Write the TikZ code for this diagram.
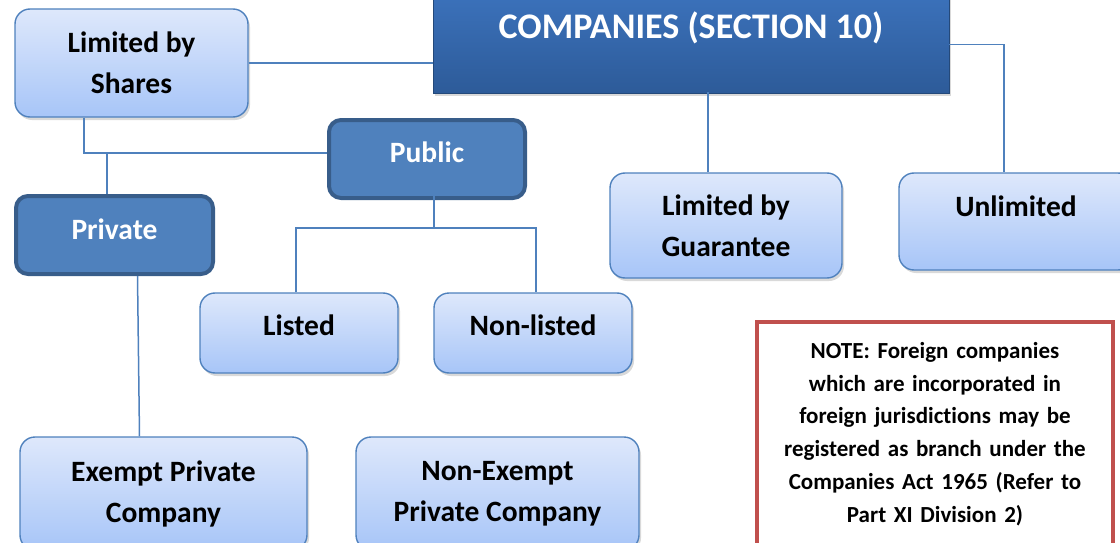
\documentclass[tikz,border=0pt]{standalone}
\usepackage{fontspec}
\setmainfont{Carlito}[Ligatures=CommonOff]
\usepackage{tikz}
\usetikzlibrary{shadows}
\usetikzlibrary{positioning}

\definecolor{linkblue}{HTML}{4F81BD}
\definecolor{darkrim}{HTML}{385D8A}
\definecolor{paletop}{HTML}{DEE8FB}
\definecolor{palebot}{HTML}{A7C5F8}
\definecolor{headtop}{HTML}{3B71BA}
\definecolor{headbot}{HTML}{2D5B99}
\definecolor{noterim}{HTML}{C0504D}

\begin{document}
\begin{tikzpicture}[x=1pt, y=-1pt,
    link/.style={draw=linkblue, line width=1.5pt},
    boxfont/.style={font=\fontsize{29.5}{41}\selectfont\bfseries},
    palebox/.style={boxfont, draw=linkblue, line width=1.4pt, rounded corners=15pt,
        top color=paletop, bottom color=palebot, align=center, inner sep=0pt,
        drop shadow={shadow xshift=2pt, shadow yshift=-3pt, opacity=0.3}},
    solidbox/.style={boxfont, draw=darkrim, line width=4pt, rounded corners=12pt,
        fill=linkblue, text=white, inner sep=0pt},
    headbox/.style={draw=headbot!80!black, line width=0.8pt, top color=headtop, bottom color=headbot,
        text=white, font=\fontsize{36}{42}\selectfont\bfseries, inner sep=0pt,
        drop shadow={shadow xshift=2pt, shadow yshift=-3pt, opacity=0.3}},
    notebox/.style={draw=noterim, line width=4pt, fill=white, align=center,
        font=\fontsize{23}{32.8}\selectfont\bfseries, inner xsep=0pt, inner ysep=20pt,
        drop shadow={shadow xshift=2pt, shadow yshift=-3pt, opacity=0.3}}]
\path[clip] (0,0) rectangle (1120,543);

\node[headbox, minimum width=516pt, minimum height=97pt, text depth=38pt] (companies) at (691,44.5) {COMPANIES (SECTION 10)};
\node[palebox, minimum width=233pt, minimum height=108pt] (shares) at (131.5,63) {Limited by\\Shares};
\node[palebox, minimum width=232pt, minimum height=105pt] (guarantee) at (726,225.5) {Limited by\\Guarantee};
\node[palebox, minimum width=234pt, minimum height=97pt, text depth=31pt] (unlimited) at (1016,221.5) {Unlimited};
\node[solidbox, minimum width=196pt, minimum height=78pt, text depth=14pt] (public) at (427,159) {Public};
\node[solidbox, minimum width=197pt, minimum height=78pt, text depth=12pt] (private) at (114.5,235) {Private};
\node[palebox, minimum width=198pt, minimum height=80pt, text depth=16pt] (listed) at (299,333) {Listed};
\node[palebox, minimum width=198pt, minimum height=80pt, text depth=16pt] (nonlisted) at (533,333) {Non-listed};
\node[palebox, minimum width=287pt, minimum height=113pt] (exempt) at (163.5,493.5) {Exempt Private\\Company};
\node[palebox, minimum width=283pt, minimum height=113pt] (nonexempt) at (497.5,493.5) {Non-Exempt\\Private Company};
\node[notebox, minimum width=356pt, text width=340pt] (note) at (935,434) {NOTE: Foreign companies\\which are incorporated in\\foreign jurisdictions may be\\registered as branch under the\\Companies Act 1965 (Refer to\\Part XI Division 2)};

\coordinate (fork) at (434,228);
\draw[link] (shares.east) -- (shares.east -| companies.west);
\draw[link] ([xshift=-18pt]guarantee.north) -- ++(0,-80);
\draw[link] (companies.east) -| ([xshift=-12pt]unlimited.north);
\draw[link] ([xshift=-47.5pt]shares.south) |- ([yshift=6pt]public.west);
\draw[link] ([xshift=-7.5pt]private.north) -- ++(0,-41);
\draw[link] ([xshift=7pt]public.center) -- (fork);
\draw[link] ([xshift=-3pt]listed.north) |- (fork) -| ([xshift=3pt]nonlisted.north);
\draw[link] ([xshift=23pt]private.south) -- ([xshift=-24pt]exempt.north);
\end{tikzpicture}
\end{document}
